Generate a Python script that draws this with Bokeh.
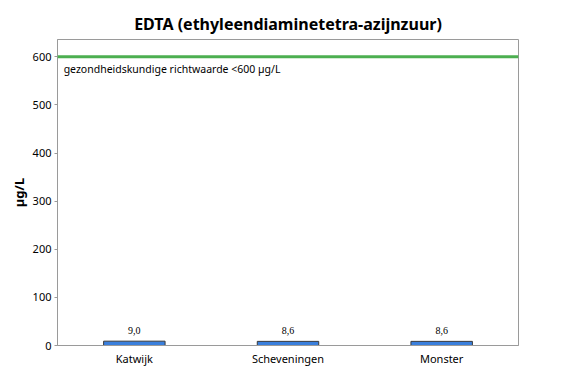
from bokeh.plotting import figure
from bokeh.models import ColumnDataSource, Span, Label, LabelSet, FactorRange, Range1d
from bokeh.embed import file_html
from bokeh.resources import INLINE

locations = ["Katwijk", "Scheveningen", "Monster"]
values = [9.0, 8.6, 8.6]
value_labels = ["9,0", "8,6", "8,6"]
norm_value = 600
norm_text = "gezondheidskundige richtwaarde <600 µg/L"
y_ticks = [0, 100, 200, 300, 400, 500, 600]

FONT = "Noto Sans"

src = ColumnDataSource(dict(x=locations, top=values, lab=value_labels))

p = figure(width=576, height=384, output_backend="svg", toolbar_location=None,
           x_range=FactorRange(*locations, range_padding=0), y_range=Range1d(0, 636),
           min_border_left=57, min_border_right=58, min_border_top=39, min_border_bottom=39,
           title="EDTA (ethyleendiaminetetra-azijnzuur)")

p.title.align = "center"
p.title.text_font = FONT
p.title.text_font_size = "16px"
p.title.text_font_style = "bold"
p.title.text_color = "#000000"
p.title.offset = 0

p.vbar(x="x", top="top", width=0.4, source=src, fill_color="#3a7fdc",
       line_color="#3a3a3a", line_width=1)

p.add_layout(LabelSet(x="x", y="top", text="lab", source=src, text_align="center",
                      text_baseline="middle", y_offset=11, text_font=FONT,
                      text_font_size="10px", text_color="#000000"))

p.add_layout(Span(location=norm_value, dimension="width", line_color="#4caf50", line_width=3))
p.add_layout(Label(x=0.04, y=norm_value, y_offset=-12, text=norm_text, text_baseline="middle",
                   text_font=FONT, text_font_size="10.5px", text_color="#000000"))

p.xgrid.visible = False
p.ygrid.visible = False
p.outline_line_color = "#9a9a9a"
p.outline_line_width = 1

p.yaxis.ticker = y_ticks
p.yaxis.axis_label = "µg/L"
p.yaxis.axis_label_text_font = FONT
p.yaxis.axis_label_text_font_style = "bold"
p.yaxis.axis_label_text_font_size = "13px"
p.yaxis.axis_label_text_color = "#000000"
p.yaxis.axis_label_standoff = 2
p.yaxis.major_label_text_font = FONT
p.yaxis.major_label_text_font_size = "11px"
p.yaxis.major_label_text_color = "#000000"
p.yaxis.major_tick_out = 3
p.yaxis.major_tick_in = 0
p.yaxis.minor_tick_line_color = None
p.yaxis.axis_line_color = "#9a9a9a"
p.yaxis.major_tick_line_color = "#9a9a9a"
p.yaxis.major_label_standoff = 3

p.xaxis.major_tick_line_color = None
p.xaxis.major_tick_out = 0
p.xaxis.major_tick_in = 0
p.xaxis.minor_tick_line_color = None
p.xaxis.axis_line_color = "#9a9a9a"
p.xaxis.major_label_text_font = FONT
p.xaxis.major_label_text_font_size = "11px"
p.xaxis.major_label_text_color = "#000000"
p.xaxis.major_label_standoff = 5

open("out.html", "w").write(file_html(p, INLINE))
